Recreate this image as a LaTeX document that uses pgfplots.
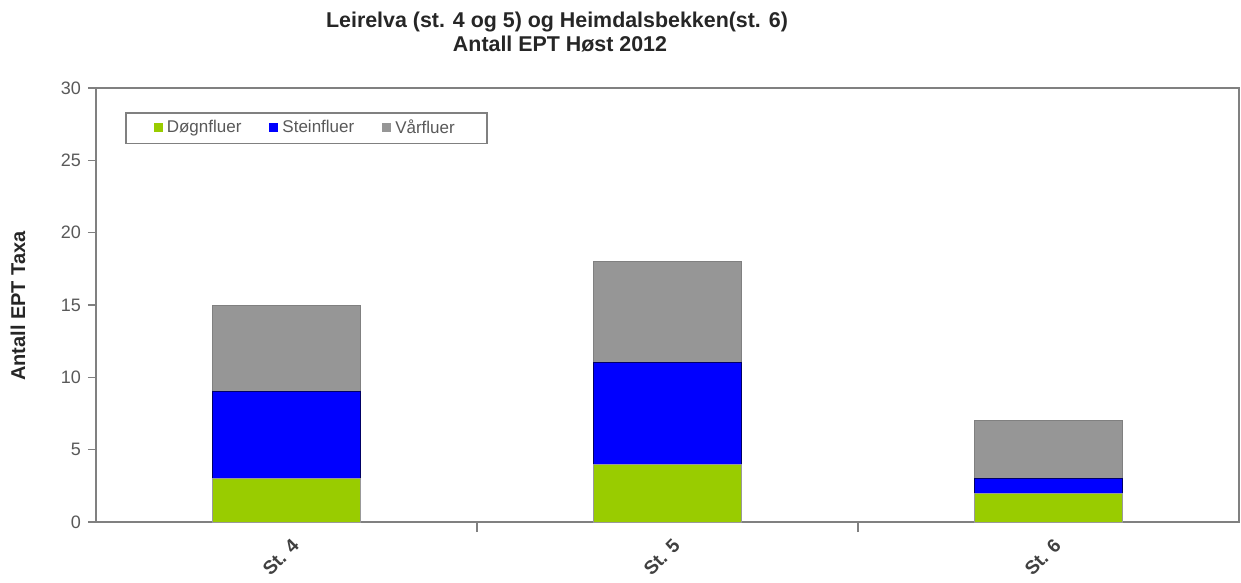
\documentclass[border=0pt]{standalone}
\usepackage{pgfplots}
\pgfplotsset{compat=1.18}
\usetikzlibrary{calc}
\usepackage{fontspec}
\setmainfont{Liberation Sans}
\definecolor{dogn}{RGB}{153,204,0}
\definecolor{stein}{RGB}{0,0,255}
\definecolor{varf}{RGB}{150,150,150}
\definecolor{axgray}{RGB}{128,128,128}
\begin{document}
\begin{tikzpicture}
\begin{axis}[
    ybar stacked,
    width=571.5pt, height=217pt,
    scale only axis,
    xmin=-0.5, xmax=2.5,
    ymin=0, ymax=30,
    bar width=0.39,
    axis line style={axgray, line width=1pt},
    xtick={0,1,2},
    xticklabels={St. 4, St. 5, St. 6},
    major x tick style={draw=none},
    minor xtick={0.5,1.5},
    minor x tick style={axgray, line width=0.6pt},
    minor tick length=5pt,
    x tick label style={rotate=45, anchor=north east, font=\bfseries\fontsize{9.5}{10}\selectfont, text=black!75, inner sep=1pt, yshift=-3pt},
    ytick={0,5,...,30},
    y tick style={axgray, line width=0.6pt},
    major tick length=4pt,
    tick align=outside,
    xtick pos=bottom, ytick pos=left,
    y tick label style={font=\fontsize{9}{10}\selectfont, text=black!65},
    /pgf/number format/assume math mode=true,
    legend columns=3,
    legend style={at={(rel axis cs:0.0254,0.9447)}, anchor=north west,
        draw=axgray, line width=0.8pt, font=\fontsize{8.5}{9}\selectfont, text=black!65,
        /tikz/every even column/.append style={column sep=12pt},
        inner xsep=14pt, inner ysep=1.5pt},
    legend image code/.code={\draw[#1, draw=none] (0pt,-2pt) rectangle (4.5pt,2.5pt);},
]
\addplot[fill=dogn, draw=black!40, line width=0.4pt] coordinates {(0,3) (1,4) (2,2)};
\addlegendentry{Døgnfluer}
\addplot[fill=stein, draw=blue!40!black, line width=0.4pt] coordinates {(0,6) (1,7) (2,1)};
\addlegendentry{Steinfluer}
\addplot[fill=varf, draw=black!50, line width=0.4pt] coordinates {(0,6) (1,7) (2,4)};
\addlegendentry{Vårfluer}
\draw[axgray, line width=1pt] (rel axis cs:0,1) -- (rel axis cs:1,1) -- (rel axis cs:1,0);
\coordinate (O) at (rel axis cs:0,0);
\end{axis}
\node[font=\bfseries\fontsize{10.7}{12}\selectfont, text=black!85] at ($(O)+(230.5pt,250pt)$) {Leirelva (st. 4 og 5) og Heimdalsbekken(st. 6)};
\node[font=\bfseries\fontsize{10.7}{12}\selectfont, text=black!85] at ($(O)+(232pt,239pt)$) {Antall EPT Høst 2012};
\node[font=\bfseries\fontsize{10}{12}\selectfont, text=black!85, rotate=90] at ($(O)+(-39pt,108pt)$) {Antall EPT Taxa};
\pgfresetboundingbox
\path ($(O)+(-48pt,-30.5pt)$) rectangle ($(O)+(572.5pt,261pt)$);
\end{tikzpicture}
\end{document}
